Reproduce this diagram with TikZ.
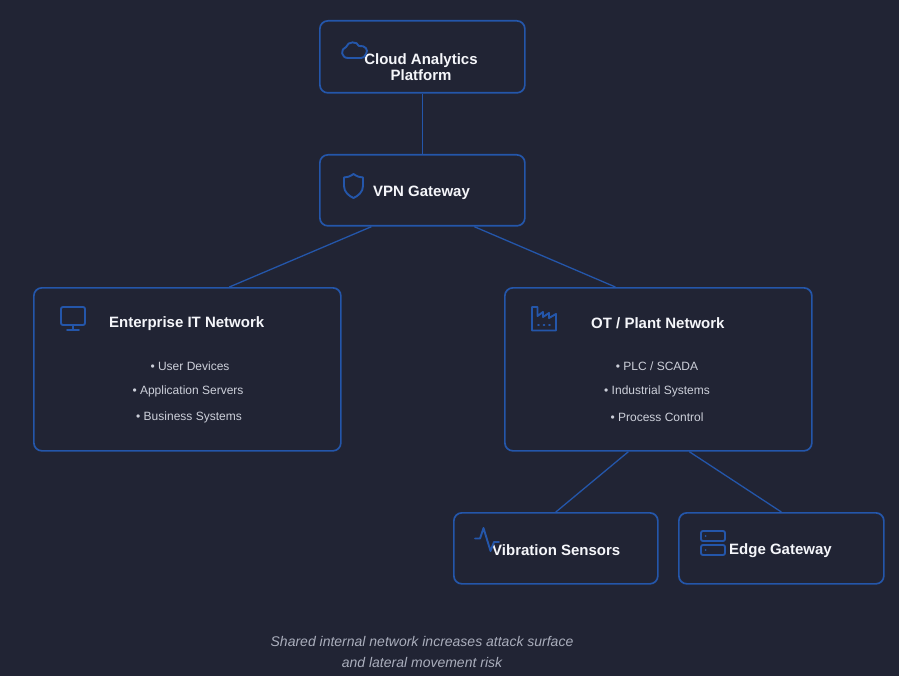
\documentclass[tikz,border=0pt]{standalone}
\usepackage{fontspec}
\setmainfont{Liberation Sans}
\definecolor{bg}{RGB}{33,36,52}
\definecolor{edge}{RGB}{36,86,170}
\definecolor{txt}{RGB}{245,246,250}
\definecolor{sub}{RGB}{205,208,218}
\definecolor{foot}{RGB}{170,174,188}
\begin{document}
\begin{tikzpicture}[x=1pt,y=-1pt,
  box/.style={draw=edge,line width=1.7pt,rounded corners=8pt,fill=bg},
  conn/.style={draw=edge,line width=1.3pt},
  icon/.style={draw=edge,line width=1.9pt,line cap=round,line join=round},
  title/.style={text=txt,font=\bfseries\fontsize{15}{16}\selectfont,align=center,inner sep=0pt},
  item/.style={text=sub,font=\fontsize{12}{13}\selectfont,inner sep=0pt},
  foottxt/.style={text=foot,font=\itshape\fontsize{14}{21}\selectfont,align=center,inner sep=0pt}]
\fill[bg] (0,0) rectangle (899,676);
\useasboundingbox (0,0) rectangle (899,676);
% boxes
\node[box,minimum width=205pt,minimum height=72pt,anchor=north west] (cloud) at (319,20) {};
\node[box,minimum width=205pt,minimum height=71pt,anchor=north west] (vpn) at (319,154) {};
\node[box,minimum width=307pt,minimum height=163pt,anchor=north west] (ent) at (33,287) {};
\node[box,minimum width=307pt,minimum height=163pt,anchor=north west] (ot) at (504,287) {};
\node[box,minimum width=204pt,minimum height=71pt,anchor=north west] (vib) at (453,512) {};
\node[box,minimum width=205pt,minimum height=71pt,anchor=north west] (gw) at (678,512) {};
% connectors
\coordinate (vpnL) at ([xshift=-51pt]vpn.south);
\coordinate (vpnR) at ([xshift=52pt]vpn.south);
\coordinate (otL) at ([xshift=-30pt]ot.south);
\coordinate (otR) at ([xshift=31pt]ot.south);
\coordinate (entT) at ([xshift=42pt]ent.north);
\coordinate (otT) at ([xshift=-43pt]ot.north);
\draw[conn] (cloud.south) -- (vpn.north);
\draw[conn] (vpnL) -- (entT);
\draw[conn] (vpnR) -- (otT);
\draw[conn] (otL) -- (vib.north);
\draw[conn] (otR) -- (gw.north);
% titles
\node[title] (tcloud) at (421,67) {Cloud Analytics\\Platform};
\node[title,anchor=west] (tvpn) at (373,192.5) {VPN Gateway};
\node[title,anchor=west] (tent) at (109,323.5) {Enterprise IT Network};
\node[title,anchor=west] (tot) at (591,323.5) {OT / Plant Network};
\node[title,anchor=west] (tvib) at (492,550.5) {Vibration Sensors};
\node[title,anchor=west] (tgw) at (729,550.5) {Edge Gateway};
% items
\node[item] (e1) at (190,366) {• User Devices};
\node[item] (e2) at (188,391) {• Application Servers};
\node[item] (e3) at (189,417) {• Business Systems};
\node[item] (o1) at (657,366) {• PLC / SCADA};
\node[item] (o2) at (657,391) {• Industrial Systems};
\node[item] (o3) at (657,417) {• Process Control};
% footer
\node[foottxt] (foot) at (422,651.5) {Shared internal network increases attack surface\\and lateral movement risk};
% icons
% cloud
\draw[icon] (348,58) .. controls (341,58) and (340,49) .. (346,47)
  .. controls (348,41) and (357,41) .. (359,46)
  .. controls (365,45) and (369,50) .. (366,54)
  .. controls (365,57) and (363,58) .. (361,58) -- cycle;
% shield
\draw[icon] (353.5,174) .. controls (350,176.5) and (347,177.5) .. (344,177.5)
  -- (344,186) .. controls (344,192) and (349,196) .. (353.5,198)
  .. controls (358,196) and (363,192) .. (363,186) -- (363,177.5)
  .. controls (360,177.5) and (357,176.5) .. (353.5,174) -- cycle;
% monitor
\draw[icon,rounded corners=2pt] (61,307) rectangle (85,325);
\draw[icon] (73,325) -- (73,330) (67,330) -- (79,330);
% factory
\draw[icon] (532,307) -- (532,330.5) -- (556,330.5) -- (556,314) -- (549,318) -- (549,313) -- (543,317) -- (543,312) -- (537.5,316) -- (537.5,307) -- cycle;
\draw[icon] (538,325) -- (539,325) (543.5,325) -- (544.5,325) (549,325) -- (550,325);
% pulse
\draw[icon] (475,538.5) -- (480,538.5) -- (483.5,528) -- (490.5,551) -- (494,542) -- (499,542);
% server
\draw[icon,rounded corners=2pt] (701,531) rectangle (725,541);
\draw[icon,rounded corners=2pt] (701,545) rectangle (725,555);
\fill[edge] (705.5,536) circle (1pt) (705.5,550) circle (1pt);
\end{tikzpicture}
\end{document}
